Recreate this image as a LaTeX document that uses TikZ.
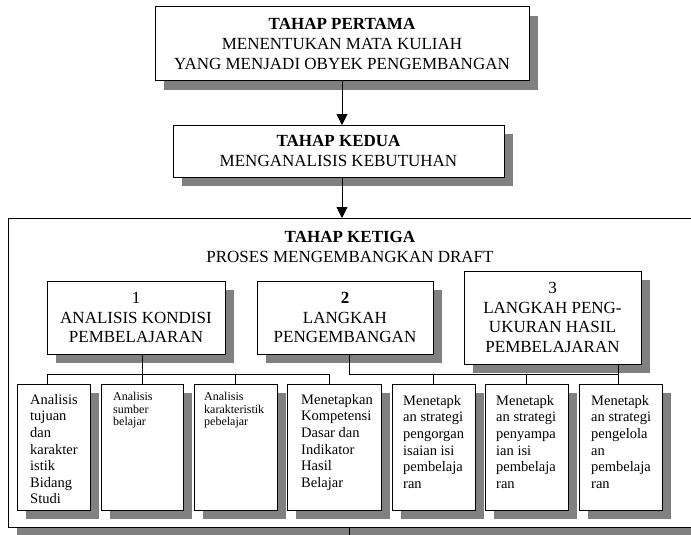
\documentclass[tikz,border=0pt]{standalone}
\usepackage{fontspec}
\setmainfont{Liberation Serif}
\usetikzlibrary{shadows,arrows.meta}
\definecolor{shadowgray}{RGB}{128,128,128}
\begin{document}
\begin{tikzpicture}[x=1pt,y=-1pt,
  box/.style={draw, line width=1pt, fill=white, inner sep=0pt, outer sep=0pt,
    drop shadow={shadow xshift=9pt, shadow yshift=-9pt, fill=shadowgray, opacity=1}},
  hdr/.style={font=\fontsize{17}{19.8}\selectfont, align=center},
  bodytxt/.style={font=\fontsize{14.5}{16.6}\selectfont, align=left, anchor=north west, inner sep=0pt},
  smalltxt/.style={font=\fontsize{12}{12.5}\selectfont, align=left, anchor=north west, inner sep=0pt},
  conn/.style={line width=1pt},
  arr/.style={line width=1pt, -{Triangle[width=11pt,length=11pt]}}
]
\useasboundingbox (0,0) rectangle (691,535);

% stage boxes
\node[box, hdr, minimum width=374pt, minimum height=74pt] (p1) at (342,44)
  {\textbf{TAHAP PERTAMA}\\MENENTUKAN MATA KULIAH\\YANG MENJADI OBYEK PENGEMBANGAN};
\node[box, hdr, minimum width=331pt, minimum height=52pt] (p2) at (338.5,151)
  {\textbf{TAHAP KEDUA}\\MENGANALISIS KEBUTUHAN};
\node[box, minimum width=712pt, minimum height=309pt] (big) at (364,372.5) {};
\node[hdr, inner sep=0pt] (t3) at (350,247) {\textbf{TAHAP KETIGA}\\PROSES MENGEMBANGKAN DRAFT};

% sub boxes
\node[box, hdr, minimum width=178pt, minimum height=73pt] (s1) at (136,317.5)
  {1\\ANALISIS KONDISI\\PEMBELAJARAN};
\node[box, hdr, minimum width=176pt, minimum height=73pt] (s2) at (345,317.5)
  {\textbf{2}\\LANGKAH\\PENGEMBANGAN};
\node[box, hdr, minimum width=177pt, minimum height=93pt] (s3) at (552.5,317.5)
  {3\\LANGKAH PENG-\\UKURAN HASIL\\PEMBELAJARAN};

% lower boxes
\node[box, minimum width=73pt, minimum height=126pt] (lA) at (53.5,447) {};
\node[box, minimum width=82pt, minimum height=126pt] (lB) at (142,447) {};
\node[box, minimum width=83pt, minimum height=126pt] (lC) at (235.5,447) {};
\node[box, minimum width=94pt, minimum height=126pt] (lD) at (334,447) {};
\node[box, minimum width=83pt, minimum height=126pt] (lE) at (433.5,447) {};
\node[box, minimum width=83pt, minimum height=126pt] (lF) at (526.5,447) {};
\node[box, minimum width=83pt, minimum height=126pt] (lG) at (620.5,447) {};

\node[bodytxt] (tA) at (30,394) {Analisis\\tujuan\\dan\\karakter\\istik\\Bidang\\Studi};
\node[smalltxt] (tB) at (113,392) {Analisis\\sumber\\belajar};
\node[smalltxt] (tC) at (204,392) {Analisis\\karakteristik\\pebelajar};
\node[bodytxt] (tD) at (301,394) {Menetapkan\\Kompetensi\\Dasar dan\\Indikator\\Hasil\\Belajar};
\node[bodytxt] (tE) at (403,395) {Menetapk\\an strategi\\pengorgan\\isaian isi\\pembelaja\\ran};
\node[bodytxt] (tF) at (496,395) {Menetapk\\an strategi\\penyampa\\ian isi\\pembelaja\\ran};
\node[bodytxt] (tG) at (591,395) {Menetapk\\an strategi\\pengelola\\an\\pembelaja\\ran};

% arrows between stages
\draw[arr] (p1.south) -- (p1.south |- p2.north);
\draw[arr] (p1.south |- p2.south) -- (p1.south |- big.north);

% connectors
\coordinate (bus) at (0,374);
\draw[conn] (s1.south -| lB.north) -- (lB.north);
\draw[conn] ([xshift=-6.5pt]lA.north) -- ([xshift=-6.5pt]lA.north |- bus)
  -- ([xshift=-5pt]lD.north |- bus) -- ([xshift=-5pt]lD.north);
\draw[conn] (lC.north |- bus) -- (lC.north);
\draw[conn] ([xshift=4pt]s2.south) -- ([xshift=4pt]s2.south |- bus)
  -- ([xshift=-2.5pt]lG.north |- bus);
\draw[conn] (lE.north |- bus) -- (lE.north);
\draw[conn] (lF.north |- bus) -- (lF.north);
\draw[conn] ([xshift=-2.5pt]lG.north |- s3.south) -- ([xshift=-2.5pt]lG.north);

% line leaving the third stage downward
\coordinate (nxt) at (349,545);
\draw[conn] (nxt |- big.south) -- (nxt);
\end{tikzpicture}
\end{document}
